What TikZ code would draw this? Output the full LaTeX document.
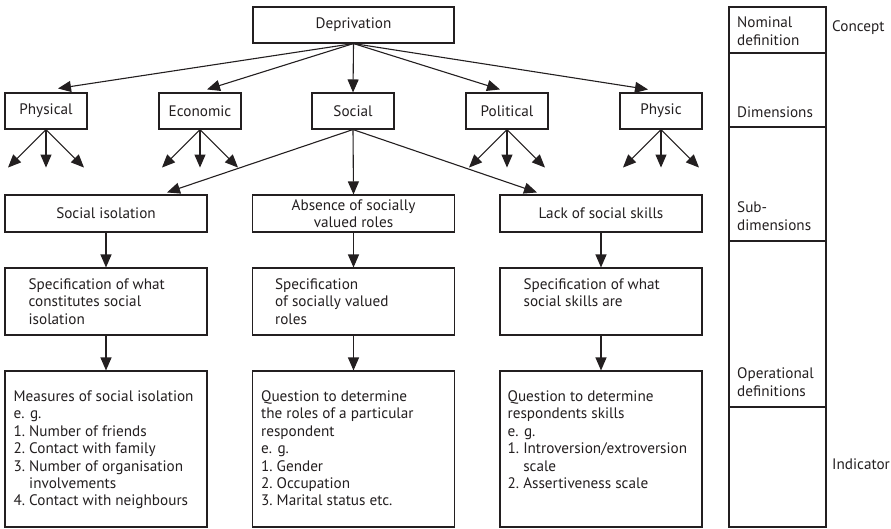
\documentclass[tikz,border=0pt]{standalone}
\usepackage{fontspec}
\setmainfont{PT Sans}
\usetikzlibrary{arrows.meta,positioning}
\definecolor{dgInk}{HTML}{231F20}
\tikzset{
 chart/.style={x=1pt,y=-1pt,text=dgInk,font=\fontsize{15.2}{17.4}\selectfont},
 box/.style={draw=dgInk,line width=1.1pt,fill=white,inner sep=0pt,align=center},
 dimbox/.style={box,minimum width=82pt,minimum height=36pt},
 colbox/.style={box,minimum width=202pt},
 lvlcell/.style={draw=dgInk,line width=1.1pt,inner sep=0pt,minimum width=97pt},
 arr/.style={draw=dgInk,line width=1.1pt,-{Triangle[length=13pt,width=11pt]}},
 body/.style={align=left,inner sep=0pt,anchor=north west},
 side/.style={align=left,inner sep=0pt,anchor=west}
}
\begin{document}
\begin{tikzpicture}[chart]
 \useasboundingbox (0,0) rectangle (891,528);
 % concept and dimensions
 \node[box,minimum width=201pt,minimum height=36pt] (dep) at (353.5,25) {Deprivation};
 \node[dimbox] (phys) at (46,111) {Physical};
 \node[dimbox] (econ) at (200,111) {Economic};
 \node[dimbox] (soc) at (353,111) {Social};
 \node[dimbox] (poli) at (507,111) {Political};
 \node[dimbox] (psyc) at (661,111) {Physic};
 \draw[arr] (dep.south) -- ([shift={(12,-4)}]phys.north);
 \draw[arr] (dep.south) -- ([shift={(7,-3)}]econ.north);
 \draw[arr] (dep.south) -- (soc.north);
 \draw[arr] (dep.south) -- ([shift={(-7,-3)}]poli.north);
 \draw[arr] (dep.south) -- ([shift={(-13,-3)}]psyc.north);
 \foreach \d in {phys,econ,poli,psyc}{
   \foreach \dx/\k in {-38/l,0/m,38/r}{
     \coordinate (\d-\k) at ([shift={(\dx,38)}]\d.south);
     \draw[arr] (\d.south) -- (\d-\k);
   }
 }
 % sub-dimensions
 \node[colbox,minimum height=37pt] (iso) at (106,213.5) {Social isolation};
 \node[colbox,minimum height=37pt] (abs) at (353.5,213.5) {Absence of socially\\valued roles};
 \node[colbox,minimum height=37pt] (lack) at (601,213.5) {Lack of social skills};
 \draw[arr] (soc.south) -- ([shift={(61,-2)}]iso.north);
 \draw[arr] (soc.south) -- (abs.north);
 \draw[arr] (soc.south) -- ([shift={(-64,-2)}]lack.north);
 % specifications
 \node[colbox,minimum height=67pt] (isoS) at (106,301.5) {};
 \node[colbox,minimum height=67pt] (absS) at (353.5,301.5) {};
 \node[colbox,minimum height=67pt] (lackS) at (601,301.5) {};
 \node[body] (isoS-t) at ([shift={(24,11)}]isoS.north west) {Specification of what\\constitutes social\\isolation};
 \node[body] (absS-t) at ([shift={(23,11)}]absS.north west) {Specification\\of socially valued\\roles};
 \node[body] (lackS-t) at ([shift={(24,11)}]lackS.north west) {Specification of what\\social skills are};
 % measures
 \node[colbox,minimum height=156pt] (isoM) at (106,449) {};
 \node[colbox,minimum height=156pt] (absM) at (353.5,449) {};
 \node[colbox,minimum height=156pt] (lackM) at (601,449) {};
 \node[body] (isoM-t) at ([shift={(9,20)}]isoM.north west) {Measures of social isolation\\e. g.\\1.~Number of friends\\2.~Contact with family\\3.~Number of organisation\\\hphantom{3.~}involvements\\4.~Contact with neighbours};
 \node[body] (absM-t) at ([shift={(9,20)}]absM.north west) {Question to determine\\the roles of a particular\\respondent\\e. g.\\1.~Gender\\2.~Occupation\\3.~Marital status etc.};
 \node[body] (lackM-t) at ([shift={(8,20)}]lackM.north west) {Question to determine\\respondents skills\\e. g.\\1.~Introversion/extroversion\\\hphantom{1.~}scale\\2.~Assertiveness scale};
 \foreach \c in {iso,abs,lack}{
   \draw[arr] (\c.south) -- (\c S.north);
   \draw[arr] (\c S.south) -- (\c M.north);
 }
 % levels column
 \node[lvlcell,minimum height=46pt] (lvNom) at (777.5,30) {};
 \node[lvlcell,minimum height=74pt] (lvDim) at (777.5,90) {};
 \node[lvlcell,minimum height=114pt] (lvSub) at (777.5,184) {};
 \node[lvlcell,minimum height=166pt] (lvOp) at (777.5,324) {};
 \node[lvlcell,minimum height=120pt] (lvInd) at (777.5,467) {};
 \node[side] (lvNom-t) at (737,31) {Nominal\\definition};
 \node[side] (lvDim-t) at (737,112) {Dimensions};
 \node[side] (lvSub-t) at (737,216) {Sub-\\dimensions};
 \node[side] (lvOp-t) at (737,382) {Operational\\definitions};
 \node[side] (concept) at (832,28) {Concept};
 \node[side] (indic) at (832,464) {Indicator};
\end{tikzpicture}
\end{document}
